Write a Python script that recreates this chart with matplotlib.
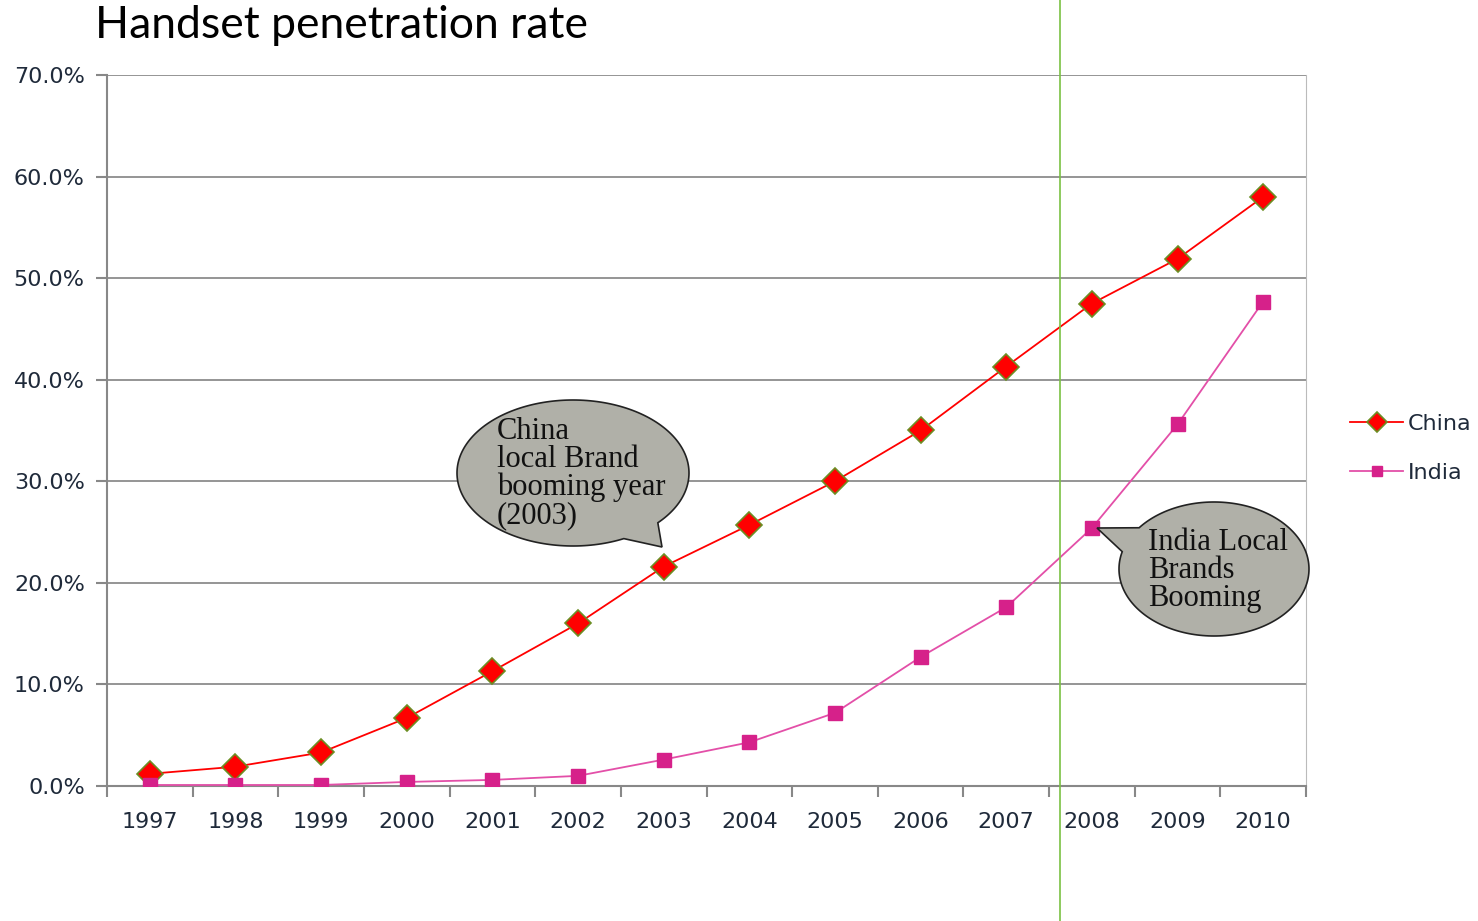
import numpy as np
import matplotlib
matplotlib.use('Agg')
import matplotlib.pyplot as plt
from matplotlib.patches import Polygon
from matplotlib.lines import Line2D
from matplotlib.transforms import IdentityTransform

years = ['1997', '1998', '1999', '2000', '2001', '2002', '2003',
         '2004', '2005', '2006', '2007', '2008', '2009', '2010']
china = [1.2, 1.9, 3.3, 6.7, 11.3, 16.0, 21.6, 25.7, 30.0, 35.0, 41.3, 47.5, 51.9, 58.0]
india = [0.1, 0.1, 0.1, 0.4, 0.6, 1.0, 2.6, 4.3, 7.2, 12.7, 17.6, 25.4, 35.6, 47.7]

W, H = 1478, 921
fig = plt.figure(figsize=(W / 100, H / 100), dpi=100)
ax = fig.add_axes([107 / W, 1 - 786 / H, (1306 - 107) / W, (786 - 75) / H])

x = np.arange(len(years))
ax.plot(x, china, color='#FF0000', lw=1.3, marker='D', ms=13,
        mfc='#FF0000', mec='#6B8E23', mew=1.2, label='China', zorder=4)
ax.plot(x, india, color='#E34FA8', lw=1.3, marker='s', ms=10,
        mfc='#D6218A', mec='#D6218A', label='India', zorder=4)

ax.set_xlim(-0.5, len(years) - 0.5)
ax.set_ylim(0, 70)
ax.set_yticks(np.arange(0, 71, 10))
ax.set_yticklabels(['%.1f%%' % v for v in np.arange(0, 71, 10)])
ax.set_xticks(np.arange(-0.5, len(years), 1))
ax.set_xticklabels([])
ax.set_xticks(x, minor=True)
ax.set_xticklabels(years, minor=True)
ax.tick_params(axis='x', which='minor', length=0, pad=19)
ax.tick_params(axis='x', which='major', length=8, color='#888888', width=1.5)
ax.tick_params(axis='y', length=8, color='#888888', width=1.5, pad=8)
for lab in ax.get_xticklabels(minor=True) + ax.get_yticklabels():
    lab.set_fontsize(16)
    lab.set_color('#1F2A3A')

ax.grid(axis='y', color='#8C8C8C', lw=1.3)
ax.set_axisbelow(True)
ax.spines['top'].set_visible(False)
ax.spines['left'].set_color('#888888')
ax.spines['left'].set_linewidth(1.5)
ax.spines['bottom'].set_color('#888888')
ax.spines['bottom'].set_linewidth(1.5)
ax.spines['right'].set_color('#BBBBBB')
ax.spines['right'].set_linewidth(0.8)

leg = ax.legend(loc='center left', bbox_to_anchor=(1.02, 0.475), frameon=False,
                fontsize=16, handlelength=2.4, handletextpad=0.2,
                labelspacing=1.3, markerscale=0.75)
for t in leg.get_texts():
    t.set_color('#1F2A3A')

fig.text(95 / W, 1 - 25 / H, 'Handset penetration rate', fontsize=32,
         family='Lato', va='center', ha='left')

# green vertical marker across the whole slide
fig.add_artist(Line2D([1060 / W, 1060 / W], [0, 1], color='#7AC143', lw=1.2,
                      transform=fig.transFigure, zorder=10))


def bubble(cx, cy, a, b, t1, t2, tip):
    # ellipse (pixel coords, y down) with a tail between angles t1..t2
    ang = np.radians(np.linspace(t2, t1 + 360, 200))
    px = cx + a * np.cos(ang)
    py = cy + b * np.sin(ang)
    pts = np.column_stack([px, py])
    pts = np.vstack([pts, [tip]])
    pts[:, 1] = H - pts[:, 1]
    p = Polygon(pts, closed=True, fc='#B0B0A8', ec='#222222', lw=1.2,
                transform=IdentityTransform(), zorder=6)
    fig.add_artist(p)


bubble(573, 473, 116, 73, 43, 64, (662, 547))
bubble(1214, 569, 95, 67, 195, 218, (1097, 528))

fig.text(497 / W, 1 - 417 / H, 'China\nlocal Brand\nbooming year\n(2003)',
         family='Liberation Serif', fontsize=22, va='top', ha='left',
         linespacing=0.95, color='#111111', zorder=7)
fig.text(1148 / W, 1 - 528 / H, 'India Local\nBrands\nBooming',
         family='Liberation Serif', fontsize=22, va='top', ha='left',
         linespacing=0.95, color='#111111', zorder=7)

fig.savefig('out.png', dpi=100)
